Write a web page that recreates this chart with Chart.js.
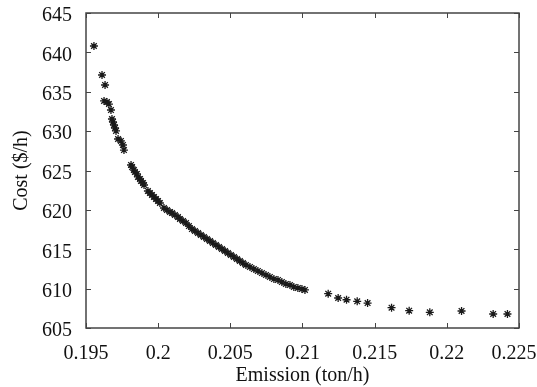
<!DOCTYPE html>
<html>
<head>
<meta charset="utf-8">
<script src="https://cdn.jsdelivr.net/npm/chart.js@4.4.1/dist/chart.umd.min.js"></script>
<style>
  html, body { margin: 0; padding: 0; background: #fff; }
  #wrap { width: 537px; height: 387px; }
</style>
</head>
<body>
<div id="wrap"><canvas id="c"></canvas></div>
<script>
// Pareto front: emission (ton/h) vs cost ($/h)
const emission = [
  0.19555, 0.19611, 0.19632, 0.19625, 0.19645, 0.19659, 0.19673, 0.19680, 0.19687, 0.19694,
  0.19701, 0.19708, 0.19722, 0.19742, 0.19756, 0.19763, 0.19812, 0.19819, 0.19832, 0.19839,
  0.19853, 0.19860, 0.19874, 0.19881, 0.19895, 0.19902, 0.19929, 0.19943, 0.19957, 0.19971,
  0.19985, 0.19999, 0.20012, 0.20040, 0.20061, 0.20082, 0.20096, 0.20116, 0.20137, 0.20151,
  0.20172, 0.20193, 0.20213, 0.20234, 0.20255, 0.20276, 0.20296, 0.20317, 0.20338, 0.20359,
  0.20379, 0.20400, 0.20421, 0.20442, 0.20463, 0.20483, 0.20504, 0.20525, 0.20546, 0.20566,
  0.20587, 0.20608, 0.20636, 0.20663, 0.20691, 0.20719, 0.20747, 0.20774, 0.20802, 0.20830,
  0.20857, 0.20885, 0.20913, 0.20940, 0.20968, 0.20996, 0.21017,
  0.21178, 0.21247, 0.21305, 0.21379, 0.21451, 0.21617, 0.21739, 0.21882, 0.22102, 0.22321, 0.22420
];
const cost = [
  640.81, 637.13, 635.86, 633.83, 633.70, 633.44, 632.68, 631.54, 631.16, 630.78,
  630.40, 630.02, 629.00, 628.75, 628.24, 627.60, 625.70, 625.44, 625.06, 624.81,
  624.56, 624.18, 623.92, 623.67, 623.41, 623.16, 622.40, 622.14, 621.89, 621.64,
  621.38, 621.13, 620.87, 620.24, 619.98, 619.73, 619.60, 619.35, 619.10, 618.84,
  618.59, 618.33, 617.95, 617.57, 617.32, 617.06, 616.81, 616.56, 616.30, 616.05,
  615.79, 615.54, 615.29, 615.03, 614.78, 614.52, 614.27, 614.02, 613.76, 613.51,
  613.25, 613.00, 612.75, 612.49, 612.24, 611.98, 611.73, 611.48, 611.22, 611.10,
  610.84, 610.59, 610.46, 610.21, 610.08, 609.95, 609.83,
  609.36, 608.81, 608.59, 608.39, 608.17, 607.58, 607.20, 606.99, 607.16, 606.78, 606.78
];
const xTicks = [0.195, 0.2, 0.205, 0.21, 0.215, 0.22, 0.225];
const yTicks = [605, 610, 615, 620, 625, 630, 635, 640, 645];

const FONT = "'Liberation Serif', 'Times New Roman', serif";
const pts = emission.map((e, i) => ({ x: e, y: cost[i] }));

// matlab-style box with inward ticks on all four sides
const boxPlugin = {
  id: 'box',
  afterDraw(chart) {
    const { ctx, chartArea: a, scales: { x, y } } = chart;
    const tl = 5;
    ctx.save();
    ctx.strokeStyle = '#444';
    ctx.lineWidth = 1.5;
    ctx.strokeRect(a.left, a.top, a.right - a.left, a.bottom - a.top);
    ctx.lineWidth = 1;
    ctx.beginPath();
    xTicks.forEach(v => {
      const px = Math.round(x.getPixelForValue(v)) + 0.5;
      ctx.moveTo(px, a.bottom); ctx.lineTo(px, a.bottom - tl);
      ctx.moveTo(px, a.top); ctx.lineTo(px, a.top + tl);
    });
    yTicks.forEach(v => {
      const py = Math.round(y.getPixelForValue(v)) + 0.5;
      ctx.moveTo(a.left, py); ctx.lineTo(a.left + tl, py);
      ctx.moveTo(a.right, py); ctx.lineTo(a.right - tl, py);
    });
    ctx.stroke();
    ctx.restore();
  }
};

new Chart(document.getElementById('c').getContext('2d'), {
  type: 'scatter',
  data: {
    datasets: [{
      data: pts,
      pointStyle: 'star',
      pointRadius: 4,
      pointBorderWidth: 1.3,
      borderColor: '#1a1a1a',
      backgroundColor: '#1a1a1a'
    }]
  },
  options: {
    responsive: true, maintainAspectRatio: false, animation: false,
    layout: { padding: { top: 13, right: 18, left: 0, bottom: 0 } },
    plugins: { legend: { display: false }, tooltip: { enabled: false } },
    scales: {
      x: {
        type: 'linear', min: 0.195, max: 0.225,
        afterBuildTicks: s => { s.ticks = xTicks.map(v => ({ value: v })); },
        afterFit: s => { s.height = 59; s.paddingLeft = 0; s.paddingRight = 0; },
        grid: { display: false }, border: { display: false },
        ticks: {
          color: '#111', padding: 6, maxRotation: 0, autoSkip: false,
          font: { family: FONT, size: 20 },
          // last label nudged left so it stays inside the canvas
          callback: (v, i, all) => String(parseFloat(Number(v).toFixed(3))) + (i === all.length - 1 ? '\u00a0\u00a0' : '')
        },
        title: {
          display: true, text: 'Emission (ton/h)', color: '#111',
          font: { family: FONT, size: 20, lineHeight: 1 }, padding: { top: 0, bottom: 1 }
        }
      },
      y: {
        type: 'linear', min: 605, max: 645,
        afterBuildTicks: s => { s.ticks = yTicks.map(v => ({ value: v })); },
        afterFit: s => { s.width = 86; s.paddingTop = 0; s.paddingBottom = 0; },
        grid: { display: false }, border: { display: false },
        ticks: {
          color: '#111', padding: 6, labelOffset: 3, autoSkip: false,
          font: { family: FONT, size: 20 }
        },
        title: {
          display: true, text: 'Cost ($/h)', color: '#111',
          font: { family: FONT, size: 20, lineHeight: 1 }, padding: { top: 12, bottom: 0 }
        }
      }
    }
  },
  plugins: [boxPlugin]
});
</script>
</body>
</html>
